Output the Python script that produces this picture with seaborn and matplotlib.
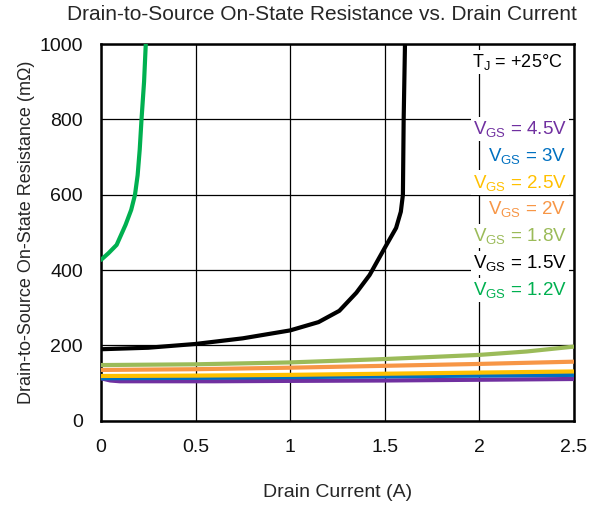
import matplotlib
matplotlib.use("Agg")
import matplotlib.pyplot as plt
import seaborn as sns
import pandas as pd

# Drain current sample points (A) and on-state resistance (mOhm) per gate voltage
i_45 = [0.0, 0.05, 0.1, 0.3, 0.6, 1.0, 1.5, 2.0, 2.5]
r_45 = [113, 107, 105, 105, 105, 106, 107, 109, 111]

i_3 = [0.0, 0.5, 1.0, 1.5, 2.0, 2.5]
r_3 = [113, 114, 116, 118, 120, 122]

i_25 = [0.0, 0.5, 1.0, 1.5, 2.0, 2.5]
r_25 = [119, 120, 122, 125, 128, 131]

i_2 = [0.0, 0.5, 1.0, 1.5, 2.0, 2.5]
r_2 = [135, 137, 141, 146, 151, 157]

i_18 = [0.0, 0.5, 1.0, 1.5, 2.0, 2.25, 2.5]
r_18 = [148, 150, 155, 164, 175, 184, 197]

i_15 = [0.0, 0.25, 0.5, 0.75, 1.0, 1.15, 1.26, 1.35, 1.42, 1.5, 1.56, 1.585, 1.596, 1.60, 1.607]
r_15 = [190, 194, 204, 219, 240, 262, 292, 340, 387, 459, 512, 555, 600, 800, 1000]

i_12 = [0.0, 0.04, 0.083, 0.13, 0.16, 0.18, 0.194, 0.205, 0.215, 0.228, 0.237]
r_12 = [427, 445, 467, 520, 560, 600, 652, 720, 804, 900, 1000]

vgs_labels = ["4.5V", "3V", "2.5V", "2V", "1.8V", "1.5V", "1.2V"]
colors = ["#7030A0", "#0070C0", "#FFC000", "#F79646", "#9BBB59", "#000000", "#00B050"]

series = [(i_45, r_45), (i_3, r_3), (i_25, r_25), (i_2, r_2),
          (i_18, r_18), (i_15, r_15), (i_12, r_12)]

frames = []
for lab, (ix, ry) in zip(vgs_labels, series):
    frames.append(pd.DataFrame({"Id": ix, "Rds": ry, "Vgs": lab}))
df = pd.concat(frames, ignore_index=True)

sns.set_style("white")
plt.rcParams["font.family"] = ["Liberation Sans", "DejaVu Sans"]
plt.rcParams["mathtext.fontset"] = "custom"
plt.rcParams["mathtext.rm"] = "Liberation Sans"
plt.rcParams["mathtext.it"] = "Liberation Sans:italic"

fig = plt.figure(figsize=(6.08, 5.07), dpi=100)
ax = fig.add_axes([0.166, 0.170, 0.778, 0.743])

sns.lineplot(data=df, x="Id", y="Rds", hue="Vgs", hue_order=vgs_labels,
             palette=colors, linewidth=3.0, sort=False, estimator=None,
             legend=False, ax=ax, zorder=3)

ax.set_xlim(0, 2.5)
ax.set_ylim(0, 1000)
ax.set_xticks([0, 0.5, 1, 1.5, 2, 2.5])
ax.set_xticklabels(["0", "0.5", "1", "1.5", "2", "2.5"])
ax.set_yticks([0, 200, 400, 600, 800, 1000])
ax.grid(True, color="black", linewidth=0.9, zorder=1)
ax.set_axisbelow(True)
for s in ax.spines.values():
    s.set_color("black")
    s.set_linewidth(1.8)
ax.tick_params(axis="both", length=0, labelsize=14, colors="#111111")
ax.tick_params(axis="y", pad=13)
ax.tick_params(axis="x", pad=13)

ax.set_xlabel("Drain Current (A)", fontsize=14, labelpad=20)
ax.set_ylabel("Drain-to-Source On-State Resistance (m\u03a9)", fontsize=13, labelpad=3)
fig.suptitle("Drain-to-Source On-State Resistance vs. Drain Current",
             fontsize=15, x=0.53, y=0.99)

box = dict(facecolor="white", edgecolor="none", pad=1.5)
ax.text(0.975, 0.952, "T$_{\\mathrm{J}}$ = +25\u00b0C",
        transform=ax.transAxes, ha="right", va="center", fontsize=13,
        color="black", bbox=box, zorder=5)
y0 = 0.775
dy = 0.0712
for k, (lab, col) in enumerate(zip(vgs_labels, colors)):
    ax.text(0.985, y0 - k * dy, r"V$_{\mathrm{GS}}$ = " + lab,
            transform=ax.transAxes, ha="right", va="center", fontsize=13.5,
            color=col, bbox=box, zorder=5)

fig.savefig("out.png", dpi=100)
